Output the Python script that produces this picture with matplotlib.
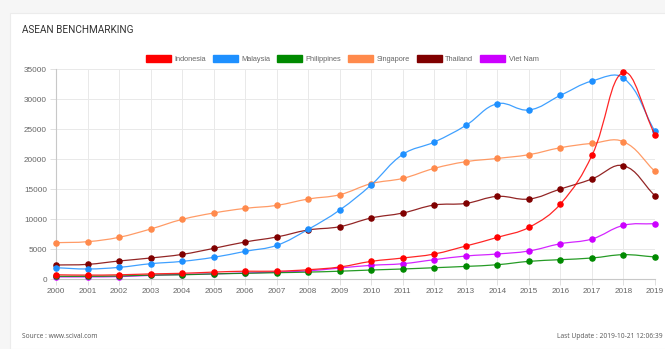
import numpy as np
import matplotlib.pyplot as plt
from matplotlib.path import Path
from matplotlib.patches import PathPatch, Patch, Rectangle

# ── Data (publications per year) ─────────────────────────────────────
years = list(range(2000, 2020))
indonesia   = [700, 650, 700, 850, 950, 1150, 1300, 1300, 1550, 2000,
               2940, 3500, 4170, 5500, 6940, 8600, 12500, 20600, 34430, 24000]
malaysia    = [1880, 1670, 1940, 2550, 2940, 3610, 4610, 5610, 8280, 11500,
               15700, 20770, 22830, 25600, 29220, 28170, 30600, 33000, 33500, 24600]
philippines = [450, 450, 500, 650, 700, 850, 950, 1050, 1150, 1300,
               1500, 1670, 1880, 2100, 2380, 2940, 3220, 3500, 4050, 3670]
singapore   = [6050, 6220, 6950, 8330, 9930, 11000, 11770, 12270, 13330, 14050,
               15900, 16770, 18440, 19550, 20100, 20720, 21880, 22600, 22880, 17930]
thailand    = [2330, 2440, 3000, 3500, 4100, 5100, 6170, 7000, 8170, 8720,
               10170, 11000, 12330, 12600, 13770, 13330, 15000, 16670, 18880, 13880]
vietnam     = [350, 350, 400, 600, 750, 850, 1000, 1150, 1350, 1830,
               2280, 2550, 3220, 3830, 4170, 4670, 5880, 6670, 8940, 9220]

series_names = ["Indonesia", "Malaysia", "Philippines", "Singapore", "Thailand", "Viet Nam"]
series_data = [indonesia, malaysia, philippines, singapore, thailand, vietnam]
series_colors = ["#ff0000", "#1e90ff", "#008a00", "#ff8a4c", "#800000", "#cc00ff"]

W, H = 665, 349
X_PX_PER_YEAR = 31.5
Y_PX_PER_UNIT = 0.006


def spline_path(xs, ys, tension=0.4):
    """Chart.js style bezier through the points (computed in pixel space)."""
    px = np.asarray(xs, float) * X_PX_PER_YEAR
    py = np.asarray(ys, float) * Y_PX_PER_UNIT
    n = len(px)
    cprev, cnext = [], []
    for i in range(n):
        a, b = max(i - 1, 0), min(i + 1, n - 1)
        d01 = np.hypot(px[i] - px[a], py[i] - py[a])
        d12 = np.hypot(px[b] - px[i], py[b] - py[i])
        tot = d01 + d12
        s01 = d01 / tot if tot else 0
        s12 = d12 / tot if tot else 0
        fa, fb = tension * s01, tension * s12
        cprev.append((px[i] - fa * (px[b] - px[a]), py[i] - fa * (py[b] - py[a])))
        cnext.append((px[i] + fb * (px[b] - px[a]), py[i] + fb * (py[b] - py[a])))
    verts = [(px[0], py[0])]
    codes = [Path.MOVETO]
    for i in range(1, n):
        verts += [cnext[i - 1], cprev[i], (px[i], py[i])]
        codes += [Path.CURVE4] * 3
    verts = [(x / X_PX_PER_YEAR, y / Y_PX_PER_UNIT) for x, y in verts]
    return Path(verts, codes)


fig = plt.figure(figsize=(W / 100, H / 100), dpi=100)
fig.patch.set_facecolor("#f6f6f6")
fig.patches.append(Rectangle((10 / W, 0), 1, 1 - 13 / H, transform=fig.transFigure,
                             facecolor="white", edgecolor="#ececec", lw=0.8, zorder=-5))

ax = fig.add_axes([56 / W, 1 - 279 / H, 599 / W, 210 / H])
ax.set_facecolor("white")

n = len(series_names)
for k, (name, vals, col) in enumerate(zip(series_names, series_data, series_colors)):
    z = 3 + (n - k)
    ax.add_patch(PathPatch(spline_path(years, vals), facecolor="none", edgecolor=col,
                           lw=0.9, alpha=0.85, zorder=z, clip_on=True))
    ax.plot(years, vals, ls="none", marker="o", ms=3.7, color=col, mec=col,
            zorder=z + 0.5, clip_on=False)

ax.set_xlim(2000, 2019)
ax.set_ylim(0, 35000)
ax.set_xticks(years)
ax.set_yticks(range(0, 35001, 5000))
ax.grid(True, color="#e9e9e9", lw=0.7)
ax.set_axisbelow(True)
for s in ["top", "right"]:
    ax.spines[s].set_visible(False)
for s in ["left", "bottom"]:
    ax.spines[s].set_color("#c8c8c8")
    ax.spines[s].set_linewidth(0.8)
ax.tick_params(axis="both", labelsize=5.9, labelcolor="#666666", color="#e0e0e0",
               length=4, width=0.7, pad=2.5)
for lab in ax.get_xticklabels() + ax.get_yticklabels():
    lab.set_family("Liberation Sans")

handles = [Patch(facecolor=c, edgecolor=c, label=nm) for nm, c in zip(series_names, series_colors)]
leg = fig.legend(handles=handles, loc="center", bbox_to_anchor=(342 / W, 1 - 59 / H),
                 ncol=6, frameon=False, handlelength=3.4, handleheight=1.1,
                 handletextpad=0.5, columnspacing=0.9,
                 prop={"family": "Liberation Sans", "size": 5.3})
for t in leg.get_texts():
    t.set_color("#666666")

fig.text(22 / W, 1 - 30 / H, "ASEAN BENCHMARKING", fontsize=7.2, color="#333333",
         family="Roboto", va="center", ha="left")
fig.text(22 / W, 1 - 337 / H, "Source : www.scival.com", fontsize=4.8, color="#555555",
         family="Open Sans", va="center", ha="left")
fig.text(663 / W, 1 - 337 / H, "Last Update : 2019-10-21 12:06:39", fontsize=4.8,
         color="#555555", family="Open Sans", va="center", ha="right")

fig.savefig("out.png", dpi=100, facecolor=fig.get_facecolor())
